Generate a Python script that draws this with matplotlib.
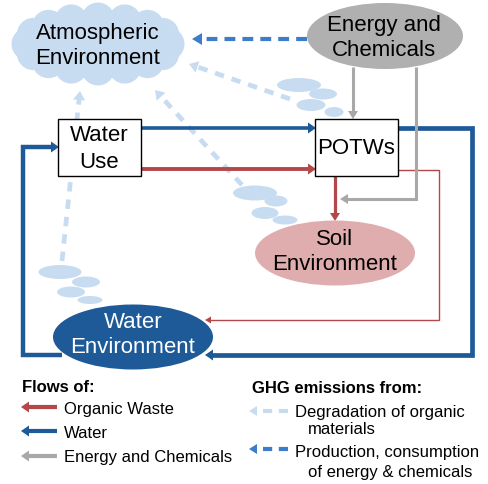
import numpy as np
import matplotlib
matplotlib.use("Agg")
import matplotlib.pyplot as plt
from matplotlib.patches import Ellipse, Rectangle, Circle, FancyArrowPatch
from matplotlib.path import Path

plt.rcParams['font.family'] = ['Liberation Sans', 'DejaVu Sans']

# ---- diagram content ----
node_labels = ["Atmospheric\nEnvironment", "Energy and\nChemicals", "Water\nUse", "POTWs",
               "Soil\nEnvironment", "Water\nEnvironment"]
legend_flow_title = "Flows of:"
legend_flow_labels = ["Organic Waste", "Water", "Energy and Chemicals"]
legend_ghg_title = "GHG emissions from:"

C_BLUE = "#1f5a98"
C_RED = "#b3474a"
C_GRAY = "#a8a8a8"
C_CLOUD = "#c8dcf1"
C_LDASH = "#c8dcf1"
C_DDASH = "#3b7ccb"
C_SOIL = "#dfadad"
C_EC = "#b0b0b0"

fig = plt.figure(figsize=(4.88, 4.85), dpi=100)
ax = fig.add_axes([0, 0, 1, 1])
ax.set_xlim(0, 488)
ax.set_ylim(485, 0)
ax.axis('off')


def arrow(points, color, lw, hl=8, hw=10, z=3):
    """Solid polyline with filled triangular head at the last point (pixel units)."""
    pts = np.array(points, float)
    p1 = pts[-1]
    d = pts[-1] - pts[-2]
    u = d / np.hypot(*d)
    line = pts.copy()
    line[-1] = p1 - u * hl * 0.6
    ax.plot(line[:, 0], line[:, 1], color=color, lw=lw, solid_joinstyle='miter',
            solid_capstyle='butt', zorder=z)
    n = np.array([-u[1], u[0]])
    tri = np.array([p1, p1 - u * hl + n * hw / 2, p1 - u * hl - n * hw / 2])
    ax.add_patch(plt.Polygon(tri, closed=True, color=color, lw=0, zorder=z))


def dashed_arrow(p0, p1, color, lw, dashes, z=2, hl=9, hw=9):
    p0 = np.array(p0, float); p1 = np.array(p1, float)
    d = p1 - p0
    u = d / np.hypot(*d)
    end = p1 - u * hl * 0.8
    ax.plot([p0[0], end[0]], [p0[1], end[1]], color=color, lw=lw, dashes=dashes,
            solid_capstyle='butt', dash_capstyle='butt', zorder=z)
    n = np.array([-u[1], u[0]])
    tri = np.array([p1, p1 - u * hl + n * hw / 2, p1 - u * hl - n * hw / 2])
    ax.add_patch(plt.Polygon(tri, closed=True, color=color, lw=0, zorder=z))


def small_cloud(cx, cy, w, h):
    ax.add_patch(Ellipse((cx, cy), w, h, color=C_CLOUD, lw=0, zorder=1))


# ---- big cloud ----
ax.add_patch(Ellipse((98, 45), 150, 62, color=C_CLOUD, lw=0, zorder=1))
for t in np.linspace(0, 2 * np.pi, 17)[:-1]:
    ax.add_patch(Circle((98 + 70 * np.cos(t), 45 + 25 * np.sin(t)), 16.5, color=C_CLOUD, lw=0, zorder=1))
ax.text(98, 46, node_labels[0], fontsize=16, ha='center', va='center', linespacing=1.3, zorder=5)

# ---- small clouds ----
for (cx, cy, w, h) in [(299, 86, 44, 14), (323, 95, 28, 11), (311, 106, 29, 12), (334, 113, 19, 10),
                       (255, 194, 44, 15), (276, 202, 23, 11), (265, 214, 27, 12), (285, 221, 25, 9),
                       (60, 273, 43, 14), (86, 283, 28, 11), (71, 293, 28, 11), (90, 301, 25, 8)]:
    small_cloud(cx, cy, w, h)

# ---- Energy and Chemicals ----
ax.add_patch(Ellipse((385, 37), 156, 66, color=C_EC, lw=0, zorder=4))
ax.text(384, 38, node_labels[1], fontsize=16, ha='center', va='center', linespacing=1.3, zorder=5)

# ---- boxes ----
ax.add_patch(Rectangle((58, 120), 83, 57, fc='white', ec='black', lw=1, zorder=4))
ax.text(99.5, 149, node_labels[2], fontsize=16, ha='center', va='center', linespacing=1.35, zorder=5)
ax.add_patch(Rectangle((315, 120), 83, 57, fc='white', ec='black', lw=1, zorder=4))
ax.text(356.5, 149, node_labels[3], fontsize=16, ha='center', va='center', zorder=5)

# ---- Soil ----
ax.add_patch(Ellipse((335, 254), 160, 65, color=C_SOIL, lw=0, zorder=4))
ax.text(335, 252, node_labels[4], fontsize=16, ha='center', va='center', linespacing=1.3, zorder=5)

# ---- Water Environment ----
ax.add_patch(Ellipse((133, 338), 160, 65, color=C_BLUE, lw=0, zorder=4))
ax.text(133, 335, node_labels[5], fontsize=16, ha='center', va='center', linespacing=1.3,
        color='white', zorder=5)

# ---- light dashed GHG arrows ----
dashed_arrow((62, 262), (80, 92), C_LDASH, 3.4, (2.0, 1.7), hl=9, hw=12)
dashed_arrow((242, 186), (155, 91), C_LDASH, 3.4, (2.0, 1.7), hl=9, hw=12)
dashed_arrow((290, 100), (189, 65), C_LDASH, 3.4, (2.0, 1.7), hl=9, hw=12)

# ---- dark dashed arrow ----
dashed_arrow((307, 40), (192, 40), C_DDASH, 3.0, (2.6, 1.7), z=3, hl=10, hw=12)

# ---- blue flows ----
arrow([(141, 129), (316, 129)], C_BLUE, 2.6, hl=8, hw=11)
arrow([(398, 129), (472, 129), (472, 356), (205, 356)], C_BLUE, 3.4, hl=8, hw=11)
arrow([(62, 356), (23, 356), (23, 148), (59, 148)], C_BLUE, 3.2, hl=8, hw=11)

# ---- red flows ----
arrow([(141, 170), (316, 170)], C_RED, 2.8, hl=8, hw=11)
arrow([(335, 177), (335, 222)], C_RED, 2.3, hl=8, hw=10)
arrow([(398, 171), (439, 171), (439, 321), (205, 321)], C_RED, 1.0, hl=6, hw=7)

# ---- gray flows ----
arrow([(353, 68), (353, 120)], C_GRAY, 2.2, hl=8, hw=10)
arrow([(416, 68), (416, 200), (340, 200)], C_GRAY, 2.2, hl=8, hw=10)

# ---- legend ----
ax.text(22, 392, legend_flow_title, fontsize=12, fontweight='bold', va='baseline')
for y, c, lab, tb in zip([408, 432, 457], [C_RED, C_BLUE, C_GRAY], legend_flow_labels, [414, 438, 462]):
    arrow([(57, y), (21, y)], c, 3.0, hl=8, hw=11)
    ax.text(64, tb, lab, fontsize=12, va='baseline')

ax.text(252, 393, legend_ghg_title, fontsize=12, fontweight='bold', va='baseline')
dashed_arrow((288, 412), (249, 412), C_LDASH, 3.0, (2.2, 1.6), hl=8, hw=10)
dashed_arrow((288, 450), (249, 450), C_DDASH, 3.0, (2.2, 1.6), hl=8, hw=10)
ax.text(295, 417, "Degradation of organic", fontsize=12, va='baseline')
ax.text(308, 434, "materials", fontsize=12, va='baseline')
ax.text(295, 457, "Production, consumption", fontsize=12, va='baseline')
ax.text(308, 477, "of energy & chemicals", fontsize=12, va='baseline')

fig.savefig("out.png", dpi=100)
